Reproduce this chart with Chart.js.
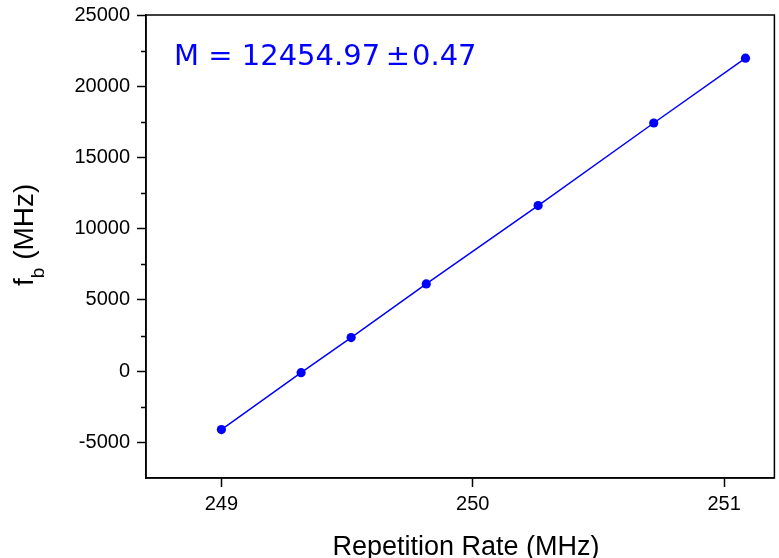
<!DOCTYPE html>
<html>
<head>
<meta charset="utf-8">
<script src="https://cdn.jsdelivr.net/npm/chart.js@4/dist/chart.umd.min.js"></script>
<style>
  html, body { margin: 0; padding: 0; background: #fff; }
  canvas { display: block; }
</style>
</head>
<body>
<canvas id="fitChart" width="779" height="558"></canvas>
<script>
// repetition rate (MHz) vs beat frequency f_b (MHz)
const repRate = [249.0, 249.317, 249.516, 249.815, 250.26, 250.72, 251.085];
const beatFreq = [-4100, -110, 2360, 6120, 11625, 17420, 21970];
const xTicks = [249, 250, 251];
const yTicks = [-5000, 0, 5000, 10000, 15000, 20000, 25000];
const yMinorTicks = [-2500, 2500, 7500, 12500, 17500, 22500];
const fitLabel = ["M = 12454.97", "\u00b1", "0.47"];

const tickFont = { family: "'Liberation Sans', Arial, sans-serif", size: 20 };

// frame, minor ticks, axis titles and the fit label
const decorations = {
  id: "decorations",
  afterDraw(chart) {
    const { ctx, chartArea: a, scales } = chart;
    ctx.save();
    ctx.strokeStyle = "#000";
    ctx.lineWidth = 1.5;
    ctx.strokeRect(a.left, a.top, a.right - a.left, a.bottom - a.top);

    ctx.beginPath();
    yMinorTicks.forEach((v) => {
      const y = Math.round(scales.y.getPixelForValue(v)) + 0.5;
      ctx.moveTo(a.left - 5, y);
      ctx.lineTo(a.left, y);
    });
    ctx.stroke();

    ctx.fillStyle = "#000";
    ctx.font = "27px 'Liberation Sans', Arial, sans-serif";
    ctx.textAlign = "center";
    ctx.textBaseline = "alphabetic";
    ctx.fillText("Repetition Rate (MHz)", 466, 555);

    ctx.translate(33, 286);
    ctx.rotate(-Math.PI / 2);
    ctx.textAlign = "left";
    ctx.font = "28px 'Liberation Sans', Arial, sans-serif";
    ctx.fillText("f", 0, 0);
    const wf = ctx.measureText("f").width;
    ctx.font = "19px 'Liberation Sans', Arial, sans-serif";
    ctx.fillText("b", wf, 11);
    const wb = ctx.measureText("b").width;
    ctx.font = "28px 'Liberation Sans', Arial, sans-serif";
    ctx.fillText(" (MHz)", wf + wb, 0);
    ctx.restore();

    ctx.save();
    ctx.fillStyle = "#0000ff";
    ctx.font = "29px 'DejaVu Sans', Verdana, sans-serif";
    ctx.textBaseline = "alphabetic";
    ctx.textAlign = "left";
    ctx.fillText(fitLabel[0], 174, 65);
    ctx.textAlign = "center";
    ctx.fillText(fitLabel[1], 398, 65);
    ctx.textAlign = "left";
    ctx.fillText(fitLabel[2], 412, 65);
    ctx.restore();
  }
};

new Chart(document.getElementById("fitChart"), {
  type: "scatter",
  data: {
    datasets: [{
      data: repRate.map((x, i) => ({ x, y: beatFreq[i] })),
      showLine: true,
      borderColor: "#0000ff",
      borderWidth: 1.5,
      backgroundColor: "#0000ff",
      pointBackgroundColor: "#0000ff",
      pointBorderWidth: 0,
      pointRadius: 4.6
    }]
  },
  options: {
    responsive: false,
    animation: false,
    layout: { padding: { top: 15, right: 2, left: 0, bottom: 0 } },
    plugins: { legend: { display: false }, tooltip: { enabled: false } },
    scales: {
      x: {
        type: "linear",
        min: 248.7,
        max: 251.2,
        afterBuildTicks: (s) => { s.ticks = xTicks.map((v) => ({ value: v })); },
        afterFit: (s) => { s.height = 80; s.paddingLeft = 0; s.paddingRight = 0; },
        grid: { drawOnChartArea: false, tickLength: 9, tickWidth: 1.5, tickColor: "#000" },
        border: { color: "#000", width: 1.5 },
        ticks: { color: "#000", font: tickFont, padding: 5, maxRotation: 0, autoSkip: false,
          callback: (v) => String(v) }
      },
      y: {
        min: -7500,
        max: 25000,
        afterBuildTicks: (s) => { s.ticks = yTicks.map((v) => ({ value: v })); },
        afterFit: (s) => { s.width = 146; s.paddingTop = 0; s.paddingBottom = 0; },
        grid: { drawOnChartArea: false, tickLength: 9, tickWidth: 1.5, tickColor: "#000" },
        border: { color: "#000", width: 1.5 },
        ticks: { color: "#000", font: tickFont, padding: 7, autoSkip: false,
          callback: (v) => String(v) }
      }
    }
  },
  plugins: [decorations]
});
</script>
</body>
</html>
